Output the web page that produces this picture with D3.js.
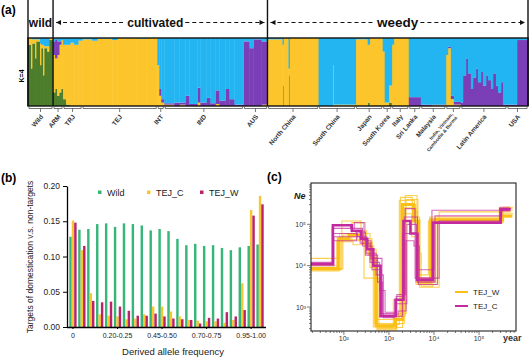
<!DOCTYPE html>
<html><head><meta charset="utf-8">
<script src="https://cdn.jsdelivr.net/npm/d3@7"></script>
<style>
body{margin:0;background:#fff;}
svg{display:block;font-family:"Liberation Sans", Arial, sans-serif;}
</style></head><body>
<svg id="c" width="529" height="357"></svg>
<script>
// ---------------- DATA ----------------
// Panel (a): STRUCTURE K=4; runs: [width in individuals, green, yellow, purple, blue]
const groupNames = ["Wild","ARM","TRJ","TEJ","INT","IND","AUS","North China","South China","Japan","South Korea","Italy","Sri Lanka","Malaysia","India, Vietnam,|Cambodia & Burma","Latin America","USA"];
const sectionNames = ["wild","cultivated","weedy"];
const sectionFirstGroup = [0, 1, 7];
const ancestryKeys = ["green","yellow","purple","blue"];
const groupRuns = [
 [[3,.90,.10,0,0],[1,.55,.45,0,0],[3,.92,.06,0,.02],[1,.70,.30,0,0],[4,.95,.03,0,.02],[1,.60,.32,0,.08],[2,.85,.05,0,.10],[1,.45,.45,0,.10],[3,.85,.03,0,.12],[2,.80,.08,0,.12],[4,.97,.03,0,0]],
 [[2,.20,.55,.20,.05],[2,.25,.45,.28,.02],[2,.15,.60,.20,.05],[2,.20,.70,.05,.05],[2,.25,.72,0,.03]],
 [[3,.10,.80,0,.10],[4,.02,.88,0,.10],[4,0,.93,0,.07],[4,0,.90,0,.10],[4,0,.96,0,.04]],
 [[10,0,.98,0,.02],[5,0,.96,0,.04],[15,0,.99,0,.01],[5,0,.97,0,.03],[20,0,1,0,0],[10,0,.99,0,.01],[10,0,1,0,0]],
 [[2,0,.60,0,.40],[2,0,.15,.10,.75],[3,0,.05,.05,.90]],
 [[10,0,.02,.02,.96],[5,0,0,.05,.95],[6,0,.02,.03,.95],[4,0,0,.15,.85],[8,0,0,.03,.97],[3,0,.05,.22,.73],[6,0,0,.05,.95],[4,0,0,.12,.88],[5,0,0,.04,.96],[4,0,.03,.20,.77],[6,0,0,.08,.92],[4,0,0,.25,.75],[5,0,0,.10,.90],[9,0,0,.02,.98]],
 [[6,0,0,.95,.05],[4,0,0,.85,.15],[8,0,0,.98,.02],[6,0,.02,.93,.05]],
 [[15,0,.98,0,.02],[1,.30,.60,0,.10],[5,0,1,0,0],[1,.45,.10,0,.45],[29,0,1,0,0]],
 [[14,0,0,0,1],[1,0,.60,0,.40],[22,0,.02,0,.98]],
 [[12,0,.98,0,.02],[2,.05,.85,0,.10],[13,0,1,0,0]],
 [[2,0,.80,0,.20],[4,0,.05,0,.95],[3,.05,.25,0,.70]],
 [[2,0,.90,0,.10],[15,0,1,0,0]],
 [[12,0,0,.13,.87]],
 [[10,0,0,.02,.98],[15,0,.01,.01,.98]],
 [[2,0,.75,0,.25],[3,0,.85,.02,.13],[3,0,.10,.05,.85],[7,0,.02,.04,.94]],
 [[2,0,0,.05,.95],[3,0,0,.45,.55],[2,0,0,.70,.30],[3,0,0,.48,.52],[2,0,0,.25,.75],[3,0,0,.42,.58],[2,0,0,.55,.45],[3,0,0,.35,.65],[2,0,0,.50,.50],[3,0,0,.30,.70],[2,0,0,.45,.55],[3,0,0,.38,.62],[2,0,0,.25,.75],[3,0,0,.48,.52],[2,0,0,.30,.70],[3,0,0,.20,.80],[2,0,0,.35,.65],[4,0,0,.02,.98]],
 [[10,0,0,.02,.98],[11,0,0,.97,.03]]
];

// Panel (b)
const freqBins = ["0","0-0.05","0.05-0.10","0.10-0.15","0.15-0.20","0.20-0.25","0.25-0.30","0.30-0.35","0.35-0.40","0.40-0.45","0.45-0.50","0.50-0.55","0.55-0.60","0.60-0.65","0.65-0.70","0.70-0.75","0.75-0.80","0.80-0.85","0.85-0.90","0.90-0.95","0.95-1.00","1"];
const shownBins = ["0","0.20-0.25","0.45-0.50","0.70-0.75","0.95-1.00"];
const barSeries = ["Wild","TEJ_C","TEJ_W"];
const wildVals = [0.128,0.138,0.139,0.146,0.147,0.142,0.147,0.146,0.144,0.137,0.139,0.136,0.125,0.116,0.118,0.115,0.116,0.112,0.109,0.113,0.115,0.117];
const tejCVals = [0.151,0.109,0.048,0.018,0.016,0.015,0.011,0.012,0.018,0.029,0.029,0.022,0.015,0.010,0.009,0.008,0.008,0.006,0.010,0.062,0.166,0.186];
const tejWVals = [0.148,0.115,0.037,0.035,0.036,0.029,0.023,0.016,0.016,0.019,0.015,0.012,0.011,0.010,0.005,0.013,0.012,0.021,0.015,0.024,0.158,0.174];
const yTicksB = [0, 0.05, 0.10, 0.15, 0.20];

// Panel (c): step trajectories [year, Ne]
const tejWMain = [[18,8.5e3],[75,4.5e4],[130,5.5e4],[260,3.5e4],[400,1.5e4],[520,3.5e2],[1400,5e2],[2000,3e5],[3500,1.2e5],[4600,4e3],[8500,1.3e5],[3.2e5,1.6e5],[5.5e5,1.6e5]];
const tejWReps = [
 [[18,1.5e4],[80,6e4],[200,4e4],[350,1.8e4],[480,4e2],[1300,6e2],[1800,4.5e5],[3300,2e5],[4300,5e3],[9000,1.2e5],[3.3e5,2.2e5],[5.6e5,2.2e5]],
 [[18,8e3],[90,1.2e5],[240,6e4],[380,9e3],[560,3e2],[1500,4e2],[2200,2.5e5],[4000,3.5e3],[1.1e4,1.4e5],[2.8e5,2.5e5],[5.3e5,2.5e5]],
 [[18,9e3],[70,4e4],[160,3.2e4],[300,2e4],[450,3.3e2],[1200,3.8e2],[1700,3.8e5],[3700,1.5e5],[4800,3e3],[1.3e4,2e5],[3e5,2.4e5],[5.5e5,2.4e5]],
 [[18,8e3],[85,5e4],[180,7e4],[320,2.5e4],[520,5e2],[1600,7e2],[2400,4e5],[4400,6e3],[7500,1.2e5],[3.5e5,1.8e5],[5.8e5,1.8e5]],
 [[18,1e4],[75,4.2e4],[280,5e3],[600,3.2e2],[1350,3.2e2],[2000,1.8e5],[3200,5e4],[4000,4.5e3],[8000,1.5e5],[3e5,2e5],[5.2e5,2e5]],
 [[18,8.5e3],[95,5.5e4],[220,4.5e4],[420,1.2e4],[500,3.6e2],[1250,1.5e3],[2100,3e5],[3900,4e3],[1.05e4,1.25e5],[3.1e5,1.5e5],[5.4e5,1.5e5]],
 [[18,7.5e3],[78,3.8e4],[150,1.1e5],[300,3e4],[460,6e3],[540,2.8e2],[1450,6e2],[2300,5e5],[4200,2e4],[5200,3.2e3],[9500,1.1e5],[3.4e5,2.6e5],[5.7e5,2.6e5]]
];
const tejCMain = [[18,1.1e4],[57,9.5e4],[150,7e4],[240,4.5e4],[330,2.5e4],[450,1e4],[650,6e2],[1400,1.5e3],[2100,1.2e5],[3000,6e4],[4200,4.5e3],[9500,1.1e5],[3e5,2.3e5],[5e5,2.3e5]];
const tejCReps = [
 [[18,1.1e4],[55,8e4],[170,1.1e5],[280,4e4],[400,1.5e4],[700,7e2],[1500,2e3],[2300,2.4e5],[3800,5e3],[9000,2.2e5],[2.9e5,2.6e5],[4.8e5,2.6e5]],
 [[18,1.2e4],[58,6e4],[200,5e4],[320,2e4],[520,6e3],[750,5.5e2],[1300,6e2],[2000,6e4],[4500,3.5e3],[1.2e4,1.1e5],[3.1e5,2.2e5],[4.6e5,2.2e5]],
 [[18,1e4],[60,5e4],[230,3.5e4],[380,1.2e4],[620,2.5e3],[820,7.5e2],[1400,1.2e3],[2500,1e5],[4100,8e3],[1e4,1.1e5],[3e5,2.1e5],[4.9e5,2.1e5]],
 [[18,1.05e4],[57,9.5e4],[140,8e4],[260,3e4],[420,8e3],[680,6e2],[1450,1.8e3],[2200,1.5e5],[4300,4e3],[1.05e4,1.6e5],[3.2e5,2.4e5],[5e5,2.4e5]],
 [[18,1.1e4],[56,4e4],[190,6.5e4],[300,1.8e4],[560,4e3],[720,6.5e2],[1600,8e2],[2400,4e4],[3600,3e4],[4700,5e3],[1.3e4,1.2e5],[2.95e5,2.3e5],[5.1e5,2.3e5]]
];
const xTicksC = [1e2, 1e3, 1e4, 1e5];
const yTicksC = [1e3, 1e4, 1e5];

// ---------------- DRAW ----------------
const svg = d3.select("#c");
const colA = {green:"#4b7d2b", yellow:"#fcc52b", purple:"#7a3eb6", blue:"#22b5f2"};

// ===== Panel (a) =====
let idx = 0; const cols = []; const groupSpans = [];
groupRuns.forEach(runs => {
  const s = idx;
  runs.forEach(r => { cols.push({start: idx, n: r[0], green: r[1], yellow: r[2], purple: r[3], blue: r[4]}); idx += r[0]; });
  groupSpans.push([s, idx]);
});
const total = idx;
const xA = d3.scaleLinear().domain([0, total]).range([28, 528]);
const yA = d3.scaleLinear().domain([0, 1]).range([106, 38]);
const stacked = d3.stack().keys(ancestryKeys).offset(d3.stackOffsetExpand)(cols);
const gA = svg.append("g");
stacked.forEach(ser => {
  gA.append("g").attr("fill", colA[ser.key]).selectAll("rect").data(ser).join("rect")
    .attr("x", d => xA(d.data.start))
    .attr("width", d => xA(d.data.start + d.data.n) - xA(d.data.start) + 0.4)
    .attr("y", d => yA(d[1]))
    .attr("height", d => Math.max(0, yA(d[0]) - yA(d[1])));
});
gA.append("rect").attr("x", 28).attr("y", 38).attr("width", 500).attr("height", 68)
  .attr("fill", "none").attr("stroke", "#111").attr("stroke-width", 1.4);
// section separators
const sectionBounds = sectionFirstGroup.map(g => groupSpans[g][0]).concat([total]);
sectionBounds.forEach(b => {
  gA.append("line").attr("x1", xA(b)).attr("x2", xA(b)).attr("y1", 0).attr("y2", 106)
    .attr("stroke", "#111").attr("stroke-width", 1.4);
});
// section headings with dashed arrows
const headStyle = [{size: 12, dx: 0}, {size: 12, dx: -5}, {size: 13.5, dx: 0}];
sectionNames.forEach((name, i) => {
  const x0 = xA(sectionBounds[i]), x1 = xA(sectionBounds[i + 1]);
  const cx = (x0 + x1) / 2 + headStyle[i].dx;
  const t = gA.append("text").attr("x", cx).attr("y", 27).attr("text-anchor", "middle")
    .attr("font-size", headStyle[i].size).attr("font-weight", "bold").attr("fill", "#111").text(name);
  if (i === 0) return;
  const w = t.node().getComputedTextLength();
  const ay = 22.5;
  const segs = [[x0 + 3, cx - w / 2 - 2, -1], [cx + w / 2 + 2, x1 - 3, 1]];
  segs.forEach(([a, b, dir]) => {
    gA.append("line").attr("x1", a).attr("x2", b).attr("y1", ay).attr("y2", ay)
      .attr("stroke", "#111").attr("stroke-width", 1.2).attr("stroke-dasharray", "4,3");
    const tip = dir < 0 ? a : b;
    gA.append("path").attr("d", `M${tip},${ay} l${-dir * 5},-2.5 l0,5 z`).attr("fill", "#111");
  });
});
svg.append("text").attr("x", 1).attr("y", 14).attr("font-size", 12).attr("font-weight", "bold").text("(a)");
svg.append("text").attr("transform", "translate(24,76) rotate(-90)").attr("text-anchor", "middle")
  .attr("font-size", 7).attr("font-weight", "bold").text("K=4");
// group brackets and labels
groupSpans.forEach((sp, i) => {
  const a = xA(sp[0]) + 1, b = xA(sp[1]) - 1, m = (xA(sp[0]) + xA(sp[1])) / 2;
  gA.append("path").attr("d", `M${a},106 V108.5 H${b} V106 M${m},108.5 V112`)
    .attr("fill", "none").attr("stroke", "#555").attr("stroke-width", 0.8);
  const parts = groupNames[i].split("|");
  const tx = gA.append("text").attr("transform", `translate(${m + 3},${117}) rotate(-50)`)
    .attr("text-anchor", "end").attr("font-weight", "bold").attr("fill", "#333")
    .attr("font-size", parts.length > 1 ? 4.8 : 6.5);
  if (parts.length > 1) {
    tx.append("tspan").attr("x", 0).attr("dy", -4).text(parts[0]);
    tx.append("tspan").attr("x", 0).attr("dy", 5.5).text(parts[1]);
  } else tx.text(parts[0]);
});

// ===== Panel (b) =====
const colB = {"Wild": "#36b678", "TEJ_C": "#f6c633", "TEJ_W": "#b8236a"};
const xB = d3.scaleBand().domain(freqBins).range([68.5, 264.5]);
const xSub = d3.scaleBand().domain(barSeries).range([0.8, xB.bandwidth() - 0.8]);
const yB = d3.scaleLinear().domain([0, 0.2]).range([327, 186]);
const gB = svg.append("g");
const seriesVals = {"Wild": wildVals, "TEJ_C": tejCVals, "TEJ_W": tejWVals};
barSeries.forEach(s => {
  gB.append("g").attr("fill", colB[s]).selectAll("rect").data(freqBins).join("rect")
    .attr("x", b => xB(b) + xSub(s)).attr("width", xSub.bandwidth())
    .attr("y", (b, i) => yB(seriesVals[s][i])).attr("height", (b, i) => yB(0) - yB(seriesVals[s][i]));
});
const yAxisB = gB.append("g").attr("transform", "translate(67,0)")
  .call(d3.axisLeft(yB).tickValues(yTicksB).tickFormat(d3.format(".2f")).tickSize(4).tickSizeOuter(0));
yAxisB.selectAll("text").attr("font-size", 8.5).attr("fill", "#222").attr("font-family", "Liberation Sans, Arial, sans-serif");
yAxisB.select(".domain").attr("stroke-width", 1.3);
const xAxisB = gB.append("g").attr("transform", "translate(0,327)")
  .call(d3.axisBottom(xB).tickValues(shownBins).tickSize(2).tickSizeOuter(0));
xAxisB.select(".domain").attr("d", "M67,0.5H266").attr("stroke-width", 1.3);
xAxisB.selectAll("text").attr("font-size", 7).attr("fill", "#222").attr("dy", "0.9em").attr("font-family", "Liberation Sans, Arial, sans-serif");
svg.append("text").attr("transform", "translate(33,257) rotate(-90)").attr("text-anchor", "middle")
  .attr("font-size", 8.5).attr("fill", "#222").text("Targets of domestication  v.s. non-targets");
svg.append("text").attr("x", 173).attr("y", 355).attr("text-anchor", "middle")
  .attr("font-size", 9.5).attr("fill", "#222").text("Derived allele frequency");
svg.append("text").attr("x", 1).attr("y", 182).attr("font-size", 12).attr("font-weight", "bold").text("(b)");
const legB = [[98, "Wild"], [147, "TEJ_C"], [200, "TEJ_W"]];
legB.forEach(([lx, s]) => {
  gB.append("rect").attr("x", lx).attr("y", 190.5).attr("width", 3.5).attr("height", 3.5).attr("fill", colB[s]);
  gB.append("text").attr("x", lx + 9).attr("y", 195.5).attr("font-size", 9).attr("fill", "#222").text(s);
});

// ===== Panel (c) =====
const xC = d3.scaleLog().domain([Math.pow(10, 1.27), Math.pow(10, 5.82)]).range([311, 516]);
const yC = d3.scaleLog().domain([Math.pow(10, 2.42), 1e6]).range([331, 183]);
const gC = svg.append("g");
gC.append("clipPath").attr("id", "clipC").append("rect").attr("x", 311).attr("y", 183).attr("width", 205).attr("height", 148);
const lineC = d3.line().x(d => xC(d[0])).y(d => yC(d[1])).curve(d3.curveStepAfter);
const colW = "#fbbf16", colC = "#c42a9f";
const lines = gC.append("g").attr("clip-path", "url(#clipC)").attr("fill", "none");
tejWReps.forEach(r => lines.append("path").attr("d", lineC(r)).attr("stroke", colW).attr("stroke-width", 1.1).attr("opacity", 0.75));
lines.append("path").attr("d", lineC(tejWMain)).attr("stroke", colW).attr("stroke-width", 3);
tejCReps.forEach(r => lines.append("path").attr("d", lineC(r)).attr("stroke", colC).attr("stroke-width", 1.1).attr("opacity", 0.7));
lines.append("path").attr("d", lineC(tejCMain)).attr("stroke", colC).attr("stroke-width", 2.6);
gC.append("rect").attr("x", 311).attr("y", 183).attr("width", 205).attr("height", 148)
  .attr("fill", "none").attr("stroke", "#222").attr("stroke-width", 1.1);
// minor/major ticks
const minorX = [], minorY = [];
for (let k = 1; k <= 5; k++) for (let m = 1; m <= 9; m++) {
  const v = m * Math.pow(10, k);
  if (v >= xC.domain()[0] && v <= xC.domain()[1]) minorX.push(v);
}
for (let k = 2; k <= 5; k++) for (let m = 1; m <= 9; m++) {
  const v = m * Math.pow(10, k);
  if (v >= yC.domain()[0] && v <= yC.domain()[1]) minorY.push(v);
}
gC.selectAll(".mx").data(minorX).join("line").attr("x1", d => xC(d)).attr("x2", d => xC(d))
  .attr("y1", 331).attr("y2", d => xTicksC.includes(d) ? 335 : 333).attr("stroke", "#444").attr("stroke-width", 0.7);
gC.selectAll(".my").data(minorY).join("line").attr("y1", d => yC(d)).attr("y2", d => yC(d))
  .attr("x1", 311).attr("x2", d => yTicksC.includes(d) ? 307 : 309).attr("stroke", "#444").attr("stroke-width", 0.7);
const sup = {2: "²", 3: "³", 4: "⁴", 5: "⁵"};
xTicksC.forEach(v => gC.append("text").attr("x", xC(v)).attr("y", 341).attr("text-anchor", "middle")
  .attr("font-size", 7).attr("fill", "#333").text("10" + sup[Math.round(Math.log10(v))]));
yTicksC.forEach(v => gC.append("text").attr("x", 306).attr("y", yC(v) + 2.5).attr("text-anchor", "end")
  .attr("font-size", 7).attr("fill", "#333").text("10" + sup[Math.round(Math.log10(v))]));
svg.append("text").attr("x", 294).attr("y", 199).attr("font-size", 9).attr("font-style", "italic").attr("font-weight", "bold").attr("fill", "#222").text("Ne");
svg.append("text").attr("x", 503).attr("y", 341).attr("font-size", 9).attr("font-weight", "bold").attr("fill", "#333").text("year");
svg.append("text").attr("x", 267).attr("y", 181).attr("font-size", 12).attr("font-weight", "bold").text("(c)");
[["TEJ_W", colW, 292], ["TEJ_C", colC, 306]].forEach(([n, c, ly]) => {
  gC.append("line").attr("x1", 455).attr("x2", 468).attr("y1", ly).attr("y2", ly).attr("stroke", c).attr("stroke-width", 2);
  gC.append("text").attr("x", 473).attr("y", ly + 3).attr("font-size", 8).attr("fill", "#222").text(n);
});
</script>
</body></html>
